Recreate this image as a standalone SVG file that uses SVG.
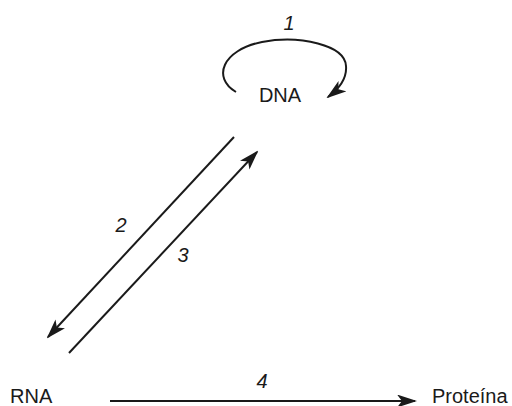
<svg xmlns="http://www.w3.org/2000/svg" width="512" height="406" viewBox="0 0 512 406">
<style>
.t{font-family:"Liberation Sans",Arial,sans-serif;font-size:20px;fill:#1a1a1a}
.n{font-style:italic}
.c{fill:none;stroke:#1a1a1a;stroke-width:2}
</style>
<defs>
<marker id="ah" markerWidth="20" markerHeight="13" refX="18" refY="6.5" orient="auto" markerUnits="userSpaceOnUse">
<path d="M0,0 L20,6.5 L0,13 L5,6.5 Z" fill="#1a1a1a"/>
</marker>
</defs>
<rect width="512" height="406" fill="#fff"/>
<g id="dna"><text class="t" x="280" y="102" text-anchor="middle">DNA</text></g>
<g id="rna"><text class="t" x="10" y="403">RNA</text></g>
<g id="proteina"><text class="t" x="432" y="403">Proteína</text></g>
<g id="connectors">
<path class="c" d="M236,92 C212,78 222,50 262,42 C300,35 345,45 346,66 C347,78 340,88 328,97" marker-end="url(#ah)"/>
<line class="c" x1="234" y1="137" x2="48" y2="337" marker-end="url(#ah)"/>
<line class="c" x1="69" y1="353" x2="257" y2="152" marker-end="url(#ah)"/>
<line class="c" x1="110" y1="401" x2="415" y2="401" marker-end="url(#ah)"/>
</g>
<g id="labels">
<text class="t n" x="289" y="30" text-anchor="middle">1</text>
<text class="t n" x="121" y="232" text-anchor="middle">2</text>
<text class="t n" x="183" y="262" text-anchor="middle">3</text>
<text class="t n" x="262" y="388" text-anchor="middle">4</text>
</g>
</svg>
